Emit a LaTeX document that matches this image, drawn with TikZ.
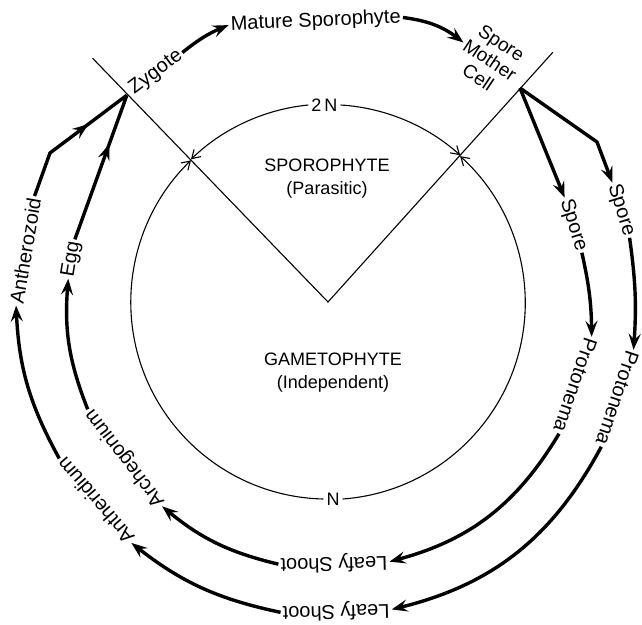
\documentclass[tikz,border=0pt]{standalone}
\usepackage{fontspec}
\setmainfont{Liberation Sans}
\usetikzlibrary{arrows.meta,decorations.markings}

\begin{document}
\begin{tikzpicture}[
    x=1pt, y=1pt,
    every node/.style={font=\fontsize{18}{21}\selectfont},
    lbl/.style={inner sep=2pt, font=\fontsize{20}{22}\selectfont},
    ring/.style={line width=1.1pt},
    ringarr/.style={line width=1.1pt, -{Straight Barb[length=8pt,width=10pt]}},
    cyc/.style={line width=3.4pt, -{Stealth[length=16pt,width=12pt,inset=6pt]}},
    cycmid/.style={line width=3.4pt, postaction={decorate},
        decoration={markings, mark=at position 0.66 with {\arrow{Stealth[length=16pt,width=12pt,inset=6pt]}}}}
]
    \useasboundingbox (-328,-322) rectangle (314,302);

    \coordinate (c) at (0,0);
    \coordinate (vl) at (134:339);
    \coordinate (vr) at (48:336);
    \coordinate (zygpt) at (134.2:288.5);
    \coordinate (smcpt) at (48.1:287.5);
    \coordinate (smcbend) at (269,160);
    \coordinate (anzbend) at (-278,149);

    \node[inner sep=3pt] (twoN) at (-3.5,197) {2\,N};
    \node[inner sep=3pt] (nN) at (5,-197) {N};
    \node[align=center, font=\fontsize{18}{23}\selectfont] (spo) at (-1,123) {SPOROPHYTE\\(Parasitic)};
    \node[align=center, font=\fontsize{18}{23}\selectfont] (gam) at (5,-71) {GAMETOPHYTE\\(Independent)};

    \node[lbl, rotate=36.8] (zyg) at (126.8:287) {Zygote};
    \node[lbl, rotate=2.5] (mat) at (92.5:281) {Mature Sporophyte};
    \node[lbl, rotate=-33.8, align=center, font=\fontsize{19}{21}\selectfont] (smc) at (56.2:291) {Spore\\Mother\\Cell};
    \node[lbl, rotate=-72.6] (sp1) at (17.4:257) {Spore};
    \node[lbl, rotate=-72.6] (sp2) at (17.4:307) {Spore};
    \node[lbl, rotate=-108.6] (pr1) at (-18.6:261) {Protonema};
    \node[lbl, rotate=-108.4] (pr2) at (-18.4:305) {Protonema};
    \node[lbl, rotate=-178.7] (ls1) at (-88.7:261) {Leafy Shoot};
    \node[lbl, rotate=-178.5] (ls2) at (-88.5:309) {Leafy Shoot};
    \node[lbl, rotate=127.5] (arch) at (217.5:256) {Archegonium};
    \node[lbl, rotate=130.5] (anth) at (220.5:306) {Antheridium};
    \node[lbl, rotate=80.5] (egg) at (170.5:260) {Egg};
    \node[lbl, rotate=80.4] (anz) at (170.4:307) {Antherozoid};

    \draw[ringarr] (twoN.west) arc[start angle=95.7, end angle=134, radius=197];
    \draw[ringarr] (twoN.east) arc[start angle=86.4, end angle=48, radius=197];
    \draw[ringarr] (nN.west) arc[start angle=268.7, end angle=134, radius=197];
    \draw[ringarr] (nN.east) arc[start angle=-85.8, end angle=48, radius=197];
    \draw[ring] (vl) -- (c) -- (vr);

    \draw[cyc] (zyg.east) to[bend left=8] (mat.west);
    \draw[cyc] (mat.east) to[bend left=15] (smc.west);
    \draw[cyc] (smcpt) -- (sp1.west);
    \draw[cyc] (smcpt) -- (smcbend) -- (sp2.west);
    \draw[cyc] (sp1.east) to[bend left=6] (pr1.west);
    \draw[cyc] (sp2.east) to[bend left=6] (pr2.west);
    \draw[cyc] (pr1.east) to[bend left=22] (ls1.west);
    \draw[cyc] (pr2.east) to[bend left=24] (ls2.west);
    \draw[cyc] (ls1.east) to[bend left=13] (arch.west);
    \draw[cyc] (ls2.east) to[bend left=13] (anth.west);
    \draw[cyc] (arch.east) to[bend left=13] (egg.west);
    \draw[cyc] (anth.east) to[bend left=13] (anz.west);
    \draw[cycmid] (egg.east) -- (zygpt);
    \draw[cycmid] (anz.east) -- (anzbend) -- (zygpt);
\end{tikzpicture}
\end{document}
